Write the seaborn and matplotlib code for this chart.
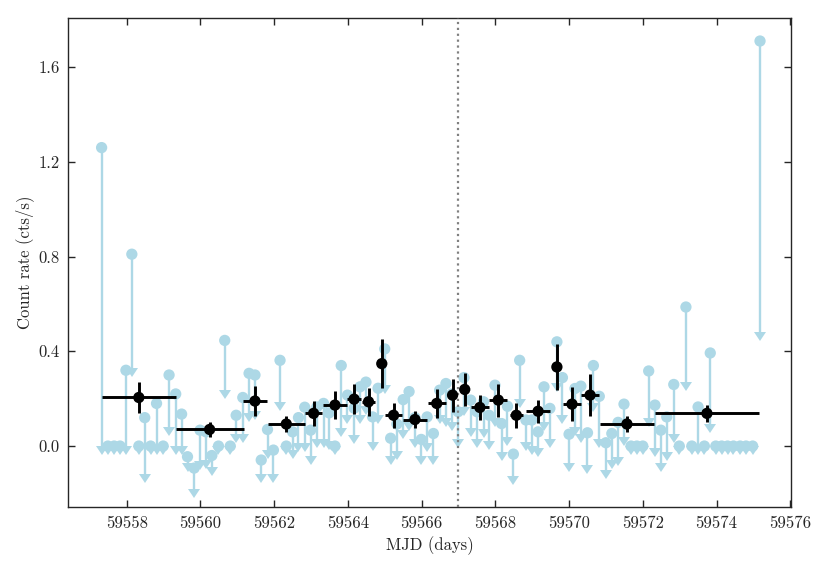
import matplotlib
matplotlib.use("Agg")
import matplotlib.pyplot as plt
import seaborn as sns
import numpy as np
import pandas as pd
from matplotlib.markers import CARETDOWNBASE

# ---- light-blue per-snapshot upper limits: value and arrow end ----
light_x = [59557.32, 59557.49, 59557.66, 59557.82, 59557.98, 59558.14, 59558.33, 59558.49,
           59558.65, 59558.81, 59558.99, 59559.15, 59559.33, 59559.49, 59559.65, 59559.83,
           59559.99, 59560.15, 59560.31, 59560.49, 59560.66, 59560.81, 59560.97, 59561.15,
           59561.32, 59561.48, 59561.65, 59561.82, 59561.98, 59562.16, 59562.33, 59562.50,
           59562.66, 59562.83, 59562.99, 59563.16, 59563.34, 59563.49, 59563.65, 59563.82,
           59563.99, 59564.17, 59564.33, 59564.49, 59564.67, 59564.82, 59565.00, 59565.16,
           59565.33, 59565.50, 59565.66, 59565.82, 59565.99, 59566.15, 59566.32, 59566.49,
           59566.66, 59566.82, 59566.99, 59567.15, 59567.33, 59567.50, 59567.68, 59567.83,
           59567.99, 59568.17, 59568.33, 59568.49, 59568.66, 59568.83, 59568.99, 59569.16,
           59569.32, 59569.48, 59569.67, 59569.82, 59570.00, 59570.16, 59570.32, 59570.50,
           59570.66, 59570.82, 59571.00, 59571.16, 59571.33, 59571.49, 59571.68, 59571.84,
           59572.00, 59572.16, 59572.33, 59572.49, 59572.65, 59572.84, 59572.99, 59573.17,
           59573.33, 59573.50, 59573.67, 59573.83, 59573.98, 59574.14, 59574.30, 59574.46,
           59574.64, 59574.80, 59574.98, 59575.18]
light_y = [1.26, 0.0, 0.0, 0.0, 0.32, 0.81, 0.0, 0.12,
           0.0, 0.18, 0.0, 0.30, 0.22, 0.135, -0.045, -0.093,
           0.067, 0.06, -0.04, 0.0, 0.446, 0.0, 0.13, 0.205,
           0.307, 0.30, -0.059, 0.07, -0.017, 0.362, 0.0, 0.06,
           0.12, 0.164, 0.067, 0.165, 0.18, 0.14, 0.0, 0.34,
           0.215, 0.16, 0.25, 0.27, 0.123, 0.244, 0.41, 0.033,
           0.093, 0.196, 0.23, 0.12, 0.028, 0.123, 0.053, 0.236,
           0.264, 0.22, 0.145, 0.289, 0.194, 0.145, 0.187, 0.13,
           0.257, 0.095, 0.168, -0.034, 0.362, 0.11, 0.11, 0.06,
           0.25, 0.159, 0.44, 0.289, 0.05, 0.243, 0.253, 0.056,
           0.34, 0.21, 0.014, 0.053, 0.10, 0.177, 0.0, 0.0,
           0.0, 0.317, 0.173, 0.067, 0.123, 0.26, 0.0, 0.587,
           0.0, 0.165, 0.0, 0.393, 0.0, 0.0, 0.0, 0.0,
           0.0, 0.0, 0.0, 1.71]
light_low = [0.0, 0.0, 0.0, 0.0, 0.0, 0.33, 0.0, -0.12,
             0.0, 0.0, 0.0, 0.08, 0.0, 0.0, -0.07, -0.18,
             -0.065, -0.06, -0.09, 0.0, 0.235, 0.0, 0.05, 0.05,
             0.14, 0.15, -0.12, -0.017, -0.12, 0.187, 0.0, -0.017,
             0.012, 0.012, -0.04, 0.03, 0.03, 0.02, 0.0, 0.075,
             0.13, 0.046, 0.13, 0.17, 0.018, 0.13, 0.257, -0.04,
             -0.02, 0.067, 0.10, 0.03, -0.04, 0.012, -0.04, 0.13,
             0.12, 0.10, 0.03, 0.165, 0.075, 0.03, 0.07, 0.02,
             0.12, -0.024, 0.04, -0.126, 0.20, 0.018, 0.0, -0.01,
             0.10, 0.03, 0.265, 0.13, -0.073, 0.08, 0.05, -0.08,
             0.18, 0.03, -0.10, -0.059, -0.045, 0.04, 0.0, 0.0,
             0.0, 0.12, -0.01, -0.073, -0.024, 0.053, 0.0, 0.27,
             0.0, 0.0, 0.0, 0.095, 0.0, 0.0, 0.0, 0.0,
             0.0, 0.0, 0.0, 0.48]

# ---- black binned detections ----
bin_x = [59558.33, 59560.25, 59561.48, 59562.33, 59563.07, 59563.65, 59564.17, 59564.56,
         59564.92, 59565.24, 59565.82, 59566.41, 59566.84, 59567.17, 59567.58, 59568.08,
         59568.57, 59569.16, 59569.67, 59570.08, 59570.57, 59571.57, 59573.74]
bin_y = [0.205, 0.07, 0.19, 0.093, 0.138, 0.173, 0.198, 0.187,
         0.348, 0.13, 0.112, 0.18, 0.215, 0.239, 0.163, 0.194,
         0.13, 0.147, 0.334, 0.177, 0.215, 0.093, 0.138]
bin_xerr = [1.0, 0.92, 0.33, 0.5, 0.24, 0.33, 0.18, 0.18,
            0.08, 0.23, 0.33, 0.24, 0.09, 0.09, 0.24, 0.25,
            0.18, 0.33, 0.1, 0.24, 0.24, 0.73, 1.42]
bin_yerr = [0.066, 0.03, 0.062, 0.032, 0.053, 0.058, 0.063, 0.06,
            0.105, 0.052, 0.037, 0.06, 0.07, 0.07, 0.052, 0.07,
            0.052, 0.048, 0.097, 0.072, 0.088, 0.033, 0.035]

vline_x = 59567.0

sns.set_style("ticks")
plt.rcParams['font.family'] = ['cmr10', 'DejaVu Serif']
plt.rcParams['axes.formatter.use_mathtext'] = True
plt.rcParams['mathtext.fontset'] = 'cm'

fig = plt.figure(figsize=(8.3, 5.71), dpi=100)
ax = fig.add_axes([0.082, 0.112, 0.871, 0.8564])

light = pd.DataFrame({"x": light_x, "y": light_y, "low": light_low})
binned = pd.DataFrame({"x": bin_x, "y": bin_y, "xerr": bin_xerr, "yerr": bin_yerr})

lc = "#add8e6"
# upper-limit stems and downward arrow heads
ax.vlines(light["x"], light["low"], light["y"], color=lc, linewidth=1.7, zorder=1)
ax.plot(light["x"], light["low"], linestyle="none", marker=CARETDOWNBASE,
        markersize=9, color=lc, markeredgewidth=0, zorder=1)
sns.scatterplot(data=light, x="x", y="y", color=lc, s=66, edgecolor="none",
                ax=ax, zorder=2, legend=False)

ax.axvline(vline_x, color="gray", linestyle=":", linewidth=1.6, zorder=3)

ax.errorbar(binned["x"], binned["y"], xerr=binned["xerr"], yerr=binned["yerr"],
            fmt="none", color="black", ecolor="black", elinewidth=2.1, capsize=0, zorder=4)
sns.scatterplot(data=binned, x="x", y="y", color="black", s=66, edgecolor="none",
                ax=ax, zorder=5, legend=False)

ax.set_xlim(59556.41, 59576.02)
ax.set_ylim(-0.2575, 1.807)
ax.set_xticks(np.arange(59558, 59577, 2))
ax.set_yticks([0.0, 0.4, 0.8, 1.2, 1.6])
ax.set_yticklabels(["0.0", "0.4", "0.8", "1.2", "1.6"])
ax.set_xticklabels([str(v) for v in range(59558, 59577, 2)])
ax.tick_params(direction="in", top=True, right=True, length=5, width=1,
               labelsize=12, pad=6)
for s in ax.spines.values():
    s.set_linewidth(1.0)
    s.set_visible(True)
ax.set_xlabel("MJD (days)", fontsize=12, labelpad=4)
ax.set_ylabel("Count rate (cts/s)", fontsize=12, labelpad=3)

fig.savefig("out.png", dpi=100)
